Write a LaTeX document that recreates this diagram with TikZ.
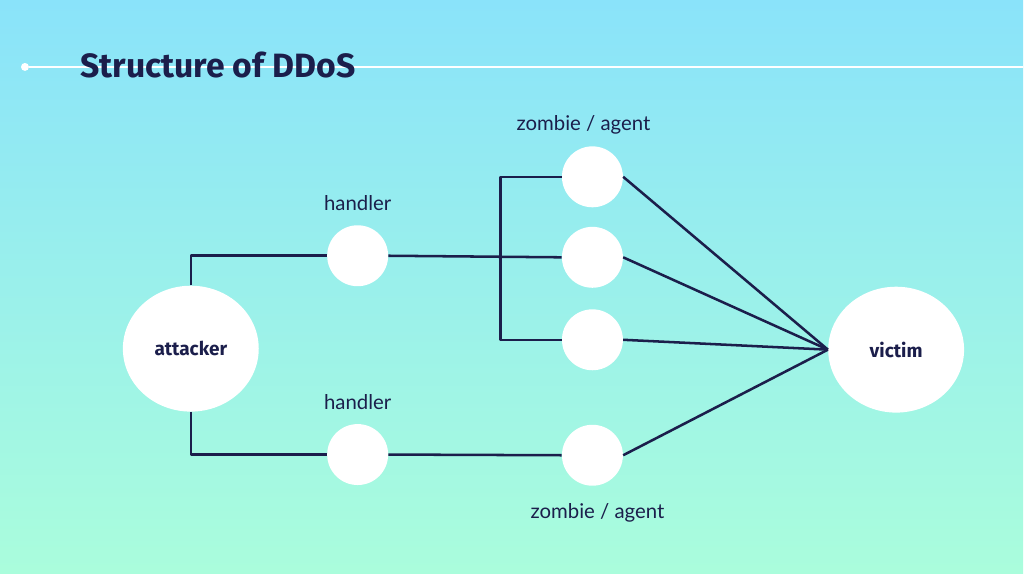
\documentclass[tikz,border=0pt]{standalone}
\usepackage{xcolor}
\usepackage{tikz}
\usepackage{fontspec}
\setmainfont{Lato}
\newfontfamily\headfont{Fira Sans}
\usetikzlibrary{shapes.geometric, positioning, calc}
\definecolor{navy}{RGB}{27,30,75}
\definecolor{bgtop}{RGB}{138,227,250}
\definecolor{bgbot}{RGB}{170,253,220}
\tikzstyle{wire} = [draw=navy, line width=1.8pt, line join=round]
\tikzstyle{rule} = [draw=white, line width=1.4pt]

\begin{document}
\begin{tikzpicture}[
    node distance=.5cm,
    every node/.style={font=\fontsize{14.5}{17}\selectfont, text=navy, inner sep=0pt},
    host/.style={ellipse, fill=white, minimum width=3.4cm, minimum height=3.15cm, font=\headfont\bfseries\fontsize{13.5}{16}\selectfont},
    relay/.style={circle, fill=white, minimum size=1.525cm}
]
    % Background and title bar
    \fill[top color=bgtop, bottom color=bgbot] (0,0) rectangle (25.6,14.35);
    \node[circle, fill=white, minimum size=.2cm] (dot) at (0.625,12.675) {};
    \coordinate (rim) at (25.6,12.675);
    \draw[rule] (dot) -- (rim);
    \node[anchor=base west, font=\headfont\bfseries\fontsize{24}{28}\selectfont] (title) at (2.0,12.4) {Structure of DDoS};

    % Hosts
    \node[host] (attacker) at (4.775,5.625) {attacker};
    \node[host] (victim) at (22.425,5.6) {victim};

    % Handlers
    \node[relay] (h1) at (8.95,7.95) {};
    \node[relay] (h2) at (8.95,2.975) {};
    \node[above=.35cm of h1] (h1lbl) {handler};
    \node[above=.35cm of h2] (h2lbl) {handler};

    % Zombies
    \node[relay] (z1) at (14.825,9.925) {};
    \node[relay, below=.475cm of z1] (z2) {};
    \node[relay, below=.525cm of z2] (z3) {};
    \node[relay, below=1.35cm of z3] (z4) {};
    \node[above=.29cm of z1, xshift=-.225cm] (z1lbl) {zombie / agent};
    \node[below=.44cm of z4, xshift=.125cm] (z4lbl) {zombie / agent};

    % Connections
    \coordinate (fork) at (12.525,7.95);
    \draw[wire] (attacker.north) |- (h1.west);
    \draw[wire] (attacker.south) |- (h2.west);
    \draw[wire] (h1.east) -- (z2.west);
    \draw[wire] (z1.west) -| (fork) |- (z3.west);
    \draw[wire] (h2.east) -- (z4.west);
    \foreach \z in {z1,z2,z3,z4}
        \draw[wire] (\z.east) -- (victim.west);
\end{tikzpicture}
\end{document}
